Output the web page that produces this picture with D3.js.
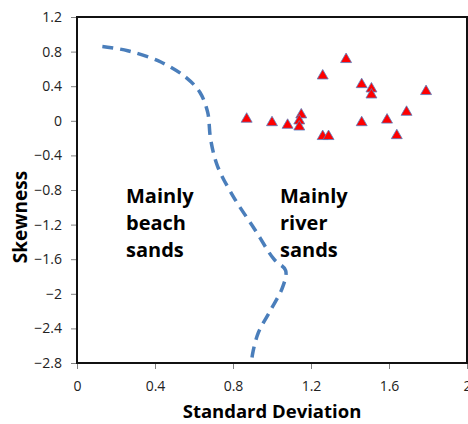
<!DOCTYPE html>
<html>
<head>
<meta charset="utf-8">
<script src="https://cdn.jsdelivr.net/npm/d3@7"></script>
<style>
  body { margin: 0; background: #fff; }
  svg { display: block; }
</style>
</head>
<body>
<svg width="468" height="424"></svg>
<script>
// sample points (standard deviation vs skewness)
const sdValues   = [0.87, 1.00, 1.08, 1.15, 1.14, 1.14, 1.26, 1.38, 1.26, 1.29, 1.46, 1.51, 1.51, 1.46, 1.59, 1.64, 1.69, 1.79];
const skewValues = [0.02, -0.02, -0.05, 0.07, 0.00, -0.07, 0.52, 0.71, -0.18, -0.18, 0.42, 0.37, 0.30, -0.02, 0.01, -0.17, 0.10, 0.34];

// dashed boundary between beach and river sands
const boundarySd   = [0.13, 0.26, 0.43, 0.56, 0.63, 0.67, 0.685, 0.72, 0.80, 0.91, 1.01, 1.07, 1.055, 0.99, 0.93, 0.90, 0.895];
const boundarySkew = [0.86, 0.81, 0.68, 0.50, 0.33, 0.10, -0.21, -0.52, -0.87, -1.25, -1.60, -1.73, -1.92, -2.20, -2.45, -2.70, -2.80];

const xTicks = [0, 0.4, 0.8, 1.2, 1.6, 2];
const yTicks = [1.2, 0.8, 0.4, 0, -0.4, -0.8, -1.2, -1.6, -2, -2.4, -2.8];

const svg = d3.select('svg');
const margin = { top: 17, right: 1, bottom: 61, left: 77 };
const width = +svg.attr('width');
const height = +svg.attr('height');
const innerWidth = width - margin.left - margin.right;
const innerHeight = height - margin.top - margin.bottom;

const xScale = d3.scaleLinear().domain([0, 2]).range([0, innerWidth]);
const yScale = d3.scaleLinear().domain([-2.8, 1.2]).range([innerHeight, 0]);

const g = svg.append('g')
  .attr('transform', `translate(${margin.left}, ${margin.top})`);

const fmt = d => d3.format('')(+d.toFixed(1));

const xAxis = d3.axisBottom(xScale).tickValues(xTicks).tickSize(6).tickPadding(12).tickFormat(fmt);
const yAxis = d3.axisLeft(yScale).tickValues(yTicks).tickSize(6).tickPadding(9).tickFormat(fmt);

const xg = g.append('g').attr('transform', `translate(0, ${innerHeight})`).call(xAxis);
const yg = g.append('g').call(yAxis);

[xg, yg].forEach(a => {
  a.select('.domain').remove();
  a.selectAll('.tick line').attr('stroke', '#808080');
  a.selectAll('.tick text')
    .attr('fill', '#222')
    .style('font-family', '"Open Sans", sans-serif')
    .style('font-size', '14px');
});

// plot frame
g.append('rect')
  .attr('x', 0).attr('y', 0)
  .attr('width', innerWidth).attr('height', innerHeight)
  .attr('fill', 'none')
  .attr('stroke', '#111')
  .attr('stroke-width', 2);

const line = d3.line()
  .x(d => xScale(d[0]))
  .y(d => yScale(d[1]))
  .curve(d3.curveCatmullRom);

g.append('path')
  .datum(d3.zip(boundarySd, boundarySkew))
  .attr('d', line)
  .attr('fill', 'none')
  .attr('stroke', '#4a7ebb')
  .attr('stroke-width', 3.5)
  .attr('stroke-dasharray', '11,7');

g.selectAll('path.pt').data(d3.zip(sdValues, skewValues))
  .enter()
  .append('path')
  .attr('class', 'pt')
  .attr('d', d3.symbol(d3.symbolTriangle, 52))
  .attr('transform', d => `translate(${xScale(d[0])}, ${yScale(d[1])})`)
  .attr('fill', '#ff0000')
  .attr('stroke', '#5a7fc0')
  .attr('stroke-opacity', 0.8)
  .attr('stroke-width', 1);

// region labels, one text per line
const labelFont = '"Open Sans", sans-serif';
const addLabel = (x, lines) => {
  lines.forEach((s, i) => {
    g.append('text')
      .attr('x', x)
      .attr('y', 186 + i * 27)
      .style('font-family', labelFont)
      .style('font-weight', 'bold')
      .style('font-size', '20px')
      .attr('fill', '#000')
      .text(s);
  });
};
addLabel(49, ['Mainly', 'beach', 'sands']);
addLabel(203, ['Mainly', 'river', 'sands']);

// axis titles
svg.append('text')
  .attr('x', 272)
  .attr('y', 418)
  .attr('text-anchor', 'middle')
  .style('font-family', labelFont)
  .style('font-weight', 'bold')
  .style('font-size', '18.5px')
  .text('Standard Deviation');

svg.append('text')
  .attr('transform', 'translate(27, 217) rotate(-90)')
  .attr('text-anchor', 'middle')
  .style('font-family', labelFont)
  .style('font-weight', 'bold')
  .style('font-size', '19px')
  .text('Skewness');
</script>
</body>
</html>
